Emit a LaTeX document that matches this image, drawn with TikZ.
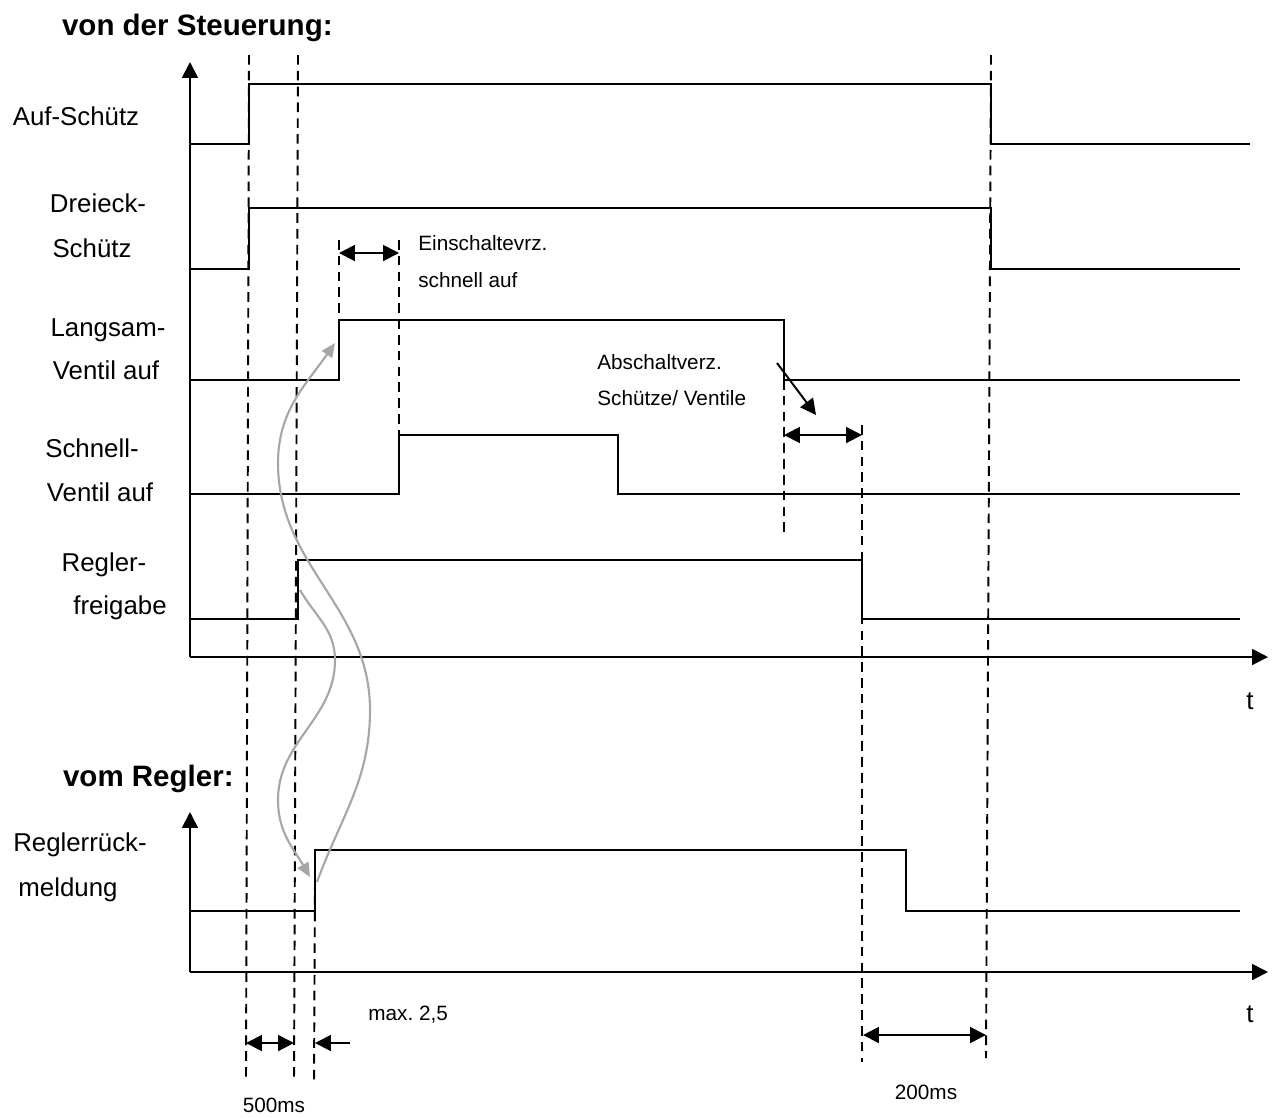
\documentclass[tikz,border=0pt]{standalone}
\usepackage{fontspec}
\setmainfont{Liberation Sans}
\usetikzlibrary{arrows.meta,calc,positioning}
\definecolor{curvegray}{RGB}{166,166,166}
\tikzset{
  sig/.style={line width=1.1pt},
  guide/.style={line width=1.1pt, dash pattern=on 5.5pt off 3.5pt},
  axis/.style={line width=1.1pt, -{Triangle[length=9pt,width=9pt]}},
  dimline/.style={line width=1.1pt, {Triangle[length=9pt,width=9pt]}-{Triangle[length=9pt,width=9pt]}},
  onearrow/.style={line width=1.1pt, -{Triangle[length=9pt,width=9pt]}},
  flow/.style={draw=curvegray, line width=1.2pt, -{Triangle[length=8pt,width=7pt]}},
  lab/.style={anchor=base, inner sep=0pt, font=\fontsize{14.7}{17}\selectfont},
  note/.style={anchor=base west, inner sep=0pt, font=\fontsize{11.8}{14}\selectfont},
  title/.style={anchor=base east, inner sep=0pt, font=\fontsize{16.8}{20}\selectfont\bfseries}
}

\begin{document}
\frenchspacing
\begin{tikzpicture}[x=0.02cm, y=-0.02cm]
\useasboundingbox (0,0) rectangle (1277,1117);

% Titles
\node[title] (tSteuer) at (333,35) {von der Steuerung:};
\node[title] (tRegler) at (234,786) {vom Regler:};

% Axes
\draw[axis] (190,657) -- (190,62);
\draw[axis] (190,657) -- (1268,657);
\draw[axis] (190,972) -- (190,812);
\draw[axis] (190,972) -- (1268,972);
\node[lab] (t1) at (1250,709) {t};
\node[lab] (t2) at (1250,1022) {t};

% Signal names
\node[lab] (nAuf) at (76,125) {Auf-Schütz};
\node[lab] (nDr1) at (98,212) {Dreieck-};
\node[lab] (nDr2) at (92,257) {Schütz};
\node[lab] (nLa1) at (108,336) {Langsam-};
\node[lab] (nLa2) at (106,379) {Ventil auf};
\node[lab] (nSc1) at (92,457) {Schnell-};
\node[lab] (nSc2) at (100,501) {Ventil auf};
\node[lab] (nRf1) at (104,571) {Regler-};
\node[lab] (nRf2) at (120,614) {freigabe};
\node[lab] (nRr1) at (80,851) {Reglerrück-};
\node[lab] (nRr2) at (68,896) {meldung};

% Signals
\draw[sig] (190,144) -| (249,84) -| (991,144) -- (1250,144);
\draw[sig] (190,269) -| (249,208) -| (991,269) -- (1240,269);
\draw[sig] (190,380) -| (339,320) -| (784,380) -- (1240,380);
\draw[sig] (190,494) -| (399,435) -| (618,494) -- (1240,494);
\draw[sig] (190,619) -| (298,560) -| (862,619) -- (1240,619);
\draw[sig] (190,911) -| (315,850) -| (906,911) -- (1240,911);

% Dashed time marks
\draw[guide] (249,55) -- (246,1080);
\draw[guide] (298,55) -- (294,1082);
\draw[guide] (315,880) -- (314,1083);
\draw[guide] (339,240) -- (339,320);
\draw[guide] (399,240) -- (399,435);
\draw[guide] (784,380) -- (784,532);
\draw[guide] (862,425) -- (862,1062);
\draw[guide] (991,55) -- (986,1058);

% Delays
\draw[dimline] (339,253) -- (399,253);
\node[note] (nEin1) at (418,250) {Einschaltevrz.};
\node[note] (nEin2) at (418,287) {schnell auf};

\draw[dimline] (784,435) -- (862,435);
\node[note] (nAb1) at (597,369) {Abschaltverz.};
\node[note] (nAb2) at (597,405) {Schütze/ Ventile};
\draw[onearrow] (777,363) -- (816,415);

\draw[dimline] (246,1043) -- (294,1043);
\node[lab, font=\fontsize{11.8}{14}\selectfont] (n500) at (274,1112) {500ms};
\draw[onearrow] (350,1043) -- (315,1043);
\node[note] (nMax) at (368,1020) {max. 2,5};

\draw[dimline] (863,1035) -- (986,1035);
\node[lab, font=\fontsize{11.8}{14}\selectfont] (n200) at (926,1099) {200ms};

% Handshake curves
\coordinate (rfUp) at (300,590);
\coordinate (rmIn) at (310,877);
\coordinate (rmUp) at (317,882);
\coordinate (lvIn) at (335,343);
\draw[flow] (rfUp) to[out=-60,in=90] (335,660) to[out=-90,in=90] (278,800) to[out=-90,in=120] (rmIn);
\draw[flow] (rmUp) to[out=70,in=-90] (370,710) to[out=90,in=-90] (278,463) to[out=90,in=-125] (lvIn);
\end{tikzpicture}
\end{document}
